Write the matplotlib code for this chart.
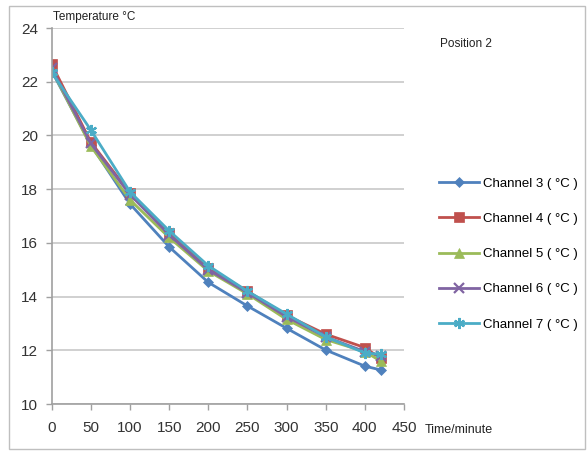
import matplotlib
matplotlib.use("Agg")
import matplotlib.pyplot as plt
from matplotlib.patches import Rectangle

plt.rcParams['font.family'] = ['Liberation Sans', 'DejaVu Sans']

time_min = [0, 50, 100, 150, 200, 250, 300, 350, 400, 420]
ch3 = [22.40, 19.65, 17.45, 15.85, 14.53, 13.65, 12.82, 12.01, 11.41, 11.27]
ch4 = [22.65, 19.75, 17.85, 16.35, 15.05, 14.20, 13.30, 12.60, 12.10, 11.70]
ch5 = [22.45, 19.60, 17.60, 16.20, 14.95, 14.10, 13.15, 12.40, 11.95, 11.60]
ch6 = [22.50, 19.70, 17.80, 16.30, 15.00, 14.15, 13.25, 12.50, 11.95, 11.80]
ch7 = [22.35, 20.20, 17.90, 16.45, 15.15, 14.20, 13.35, 12.50, 11.90, 11.85]

series = [
    ("Channel 3 ( °C )", ch3, "#4F81BD", "D", 5.5),
    ("Channel 4 ( °C )", ch4, "#C0504D", "s", 6.5),
    ("Channel 5 ( °C )", ch5, "#9BBB59", "^", 6.5),
    ("Channel 6 ( °C )", ch6, "#8064A2", "x", 7),
    ("Channel 7 ( °C )", ch7, "#4BACC6", (6, 2, 0), 8),
]

W, H = 587, 453
fig = plt.figure(figsize=(W / 100, H / 100), dpi=100)
fig.patch.set_facecolor("white")
fig.patches.append(Rectangle((8.5 / W, 4 / H), (W - 11) / W, (H - 9.5) / H,
                             transform=fig.transFigure, fill=False,
                             edgecolor="#BFBFBF", linewidth=1.0))

ax = fig.add_axes([51.7 / W, 1 - 404 / H, (404 - 51.7) / W, (404 - 28) / H])

handles = []
for label, vals, color, marker, ms in series:
    h, = ax.plot(time_min, vals, color=color, marker=marker, markersize=ms,
                 linewidth=2.0, markeredgewidth=1.6 if marker in ("x", (6, 2, 0)) else 0.5,
                 markeredgecolor=color, label=label)
    handles.append(h)

ax.set_xlim(0, 450)
ax.set_ylim(10, 24)
ax.set_xticks(range(0, 451, 50))
ax.set_yticks(range(10, 25, 2))
ax.grid(axis="y", color="#C8C8C8", linewidth=1.2)
ax.set_axisbelow(True)
for s in ("top", "right"):
    ax.spines[s].set_visible(False)
for s in ("left", "bottom"):
    ax.spines[s].set_color("#A0A0A0")
    ax.spines[s].set_linewidth(1.2)
ax.tick_params(axis="both", colors="#A0A0A0", labelcolor="#333333",
               labelsize=11, length=4, width=1)
ax.tick_params(axis="x", pad=8)
ax.tick_params(axis="y", pad=6)

fig.text(53 / W, 1 - 17 / H, "Temperature °C", fontsize=8.5, color="#222222",
         ha="left", va="center")
fig.text(425 / W, 1 - 430 / H, "Time/minute", fontsize=9, color="#222222",
         ha="left", va="center")
fig.text(440 / W, 1 - 44 / H, "Position 2", fontsize=8.5, color="#222222",
         ha="left", va="center")

fig.legend(handles=handles, loc="upper left",
           bbox_to_anchor=(434 / W, 1 - 172 / H), frameon=False,
           fontsize=9.5, handlelength=3.0, handletextpad=0.3,
           labelspacing=1.75, borderaxespad=0)

fig.savefig("out.png", dpi=100, facecolor="white")
